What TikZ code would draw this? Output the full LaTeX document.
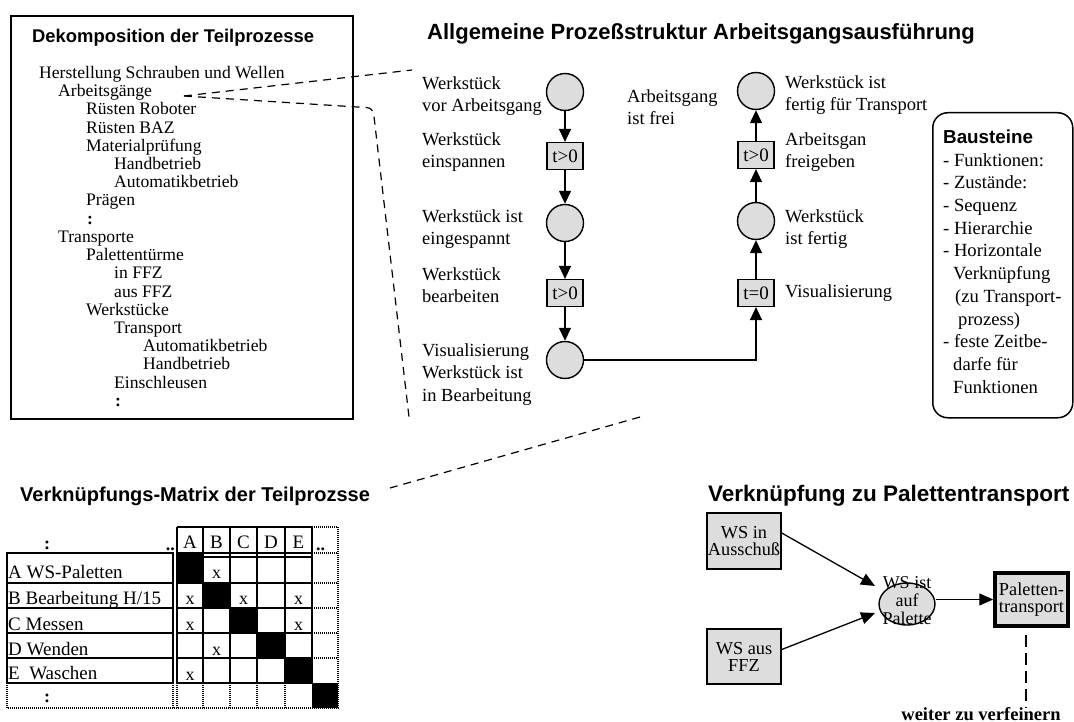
\documentclass[tikz,border=0pt]{standalone}
\usepackage{fontspec}
\setmainfont{Liberation Serif}
\setsansfont{Liberation Sans}
\usetikzlibrary{arrows.meta,shapes.geometric,calc}
\definecolor{placefill}{RGB}{221,221,221}

\tikzset{
  head/.style={font=\sffamily\bfseries\fontsize{22}{26}\selectfont, anchor=west},
  lbl/.style={font=\fontsize{18.5}{22.5}\selectfont, align=left, anchor=north west},
  place/.style={circle, draw, line width=1.4pt, fill=placefill, minimum size=37pt},
  trans/.style={rectangle, draw, line width=1.2pt, fill=placefill, minimum width=36pt,
                minimum height=27pt, font=\fontsize{19}{20}\selectfont},
  flow/.style={line width=1.4pt, -{Triangle[length=13pt,width=12pt]}},
  palflow/.style={line width=1.3pt, -{Triangle[length=14pt,width=12pt]}},
  zoomline/.style={line width=1.2pt, dash pattern=on 8pt off 6pt},
  gridline/.style={line width=1.8pt},
  dotline/.style={line width=1.8pt, dash pattern=on 1pt off 1pt},
  xmark/.style={font=\fontsize{18}{20}\selectfont, anchor=base},
  rowlbl/.style={font=\fontsize{19}{20}\selectfont, anchor=base west},
  pbox/.style={rectangle, draw, line width=1.5pt, fill=placefill, align=center,
               font=\fontsize{18.3}{17}\selectfont},
}

\begin{document}
\begin{tikzpicture}[x=1pt, y=-1pt, every node/.style={inner sep=0pt}]
\useasboundingbox (0,0) rectangle (1074,722);

% ---------- decomposition of the sub-processes ----------
\node[draw, line width=1.6pt, minimum width=342pt, minimum height=403pt, anchor=north west]
  (deko) at (10,15) {};
\node[head, font=\sffamily\bfseries\fontsize{18.4}{22}\selectfont] (tdeko) at (32,38)
  {Dekomposition der Teilprozesse};
\node[lbl, font=\fontsize{17.6}{18.22}\selectfont] (tree) at (39,66) {%
Herstellung Schrauben und Wellen\\
\hspace*{19pt}Arbeitsgänge\\
\hspace*{47pt}Rüsten Roboter\\
\hspace*{47pt}Rüsten BAZ\\
\hspace*{47pt}Materialprüfung\\
\hspace*{75pt}Handbetrieb\\
\hspace*{75pt}Automatikbetrieb\\
\hspace*{47pt}Prägen\\
\hspace*{48pt}\textbf{:}\\
\hspace*{19pt}Transporte\\
\hspace*{47pt}Palettentürme\\
\hspace*{75pt}in FFZ\\
\hspace*{75pt}aus FFZ\\
\hspace*{47pt}Werkstücke\\
\hspace*{75pt}Transport\\
\hspace*{104pt}Automatikbetrieb\\
\hspace*{104pt}Handbetrieb\\
\hspace*{75pt}Einschleusen\\
\hspace*{76pt}\textbf{:}};

% ---------- general process structure ----------
\node[head] (tproc) at (427,34) {Allgemeine Prozeßstruktur Arbeitsgangsausführung};

\node[place] (p1) at (565,92) {};
\node[trans] (t1) at (565,156) {t>0};
\node[place] (p2) at (565,223) {};
\node[trans] (t2) at (565,293) {t>0};
\node[place] (p3) at (565,360) {};
\node[place] (p4) at (756,91) {};
\node[trans] (t3) at (756,155) {t>0};
\node[place] (p5) at (756,221) {};
\node[trans] (t4) at (756,293) {t=0};

\draw[flow] (p1) -- (t1);
\draw[flow] (t1) -- (p2);
\draw[flow] (p2) -- (t2);
\draw[flow] (t2) -- (p3);
\draw[flow] (p3) -| (t4);
\draw[flow] (t4) -- (p5);
\draw[flow] (p5) -- (t3);
\draw[flow] (t3) -- (p4);

\node[lbl] (l1) at (422,76) {Werkstück\\vor Arbeitsgang};
\node[lbl] (l2) at (422,132) {Werkstück\\einspannen};
\node[lbl] (l3) at (422,209) {Werkstück ist\\eingespannt};
\node[lbl] (l4) at (422,267) {Werkstück\\bearbeiten};
\node[lbl] (l5) at (422,343) {Visualisierung\\Werkstück ist\\in Bearbeitung};
\node[lbl] (l6) at (627,89) {Arbeitsgang\\ist frei};
\node[lbl] (l7) at (785,75) {Werkstück ist\\fertig für Transport};
\node[lbl] (l8) at (785,132) {Arbeitsgan\\freigeben};
\node[lbl] (l9) at (785,209) {Werkstück\\ist fertig};
\node[lbl] (l10) at (785,284) {Visualisierung};

% building blocks
\node[draw, line width=1.5pt, rounded corners=15pt, minimum width=140pt, minimum height=305pt,
  anchor=north west] (bst) at (932,112) {};
\node[head, font=\sffamily\bfseries\fontsize{18.8}{22}\selectfont] (bsttitle) at (943,137) {Bausteine};
\node[lbl, font=\fontsize{18.6}{22.7}\selectfont] (bsttext) at (943,153) {%
- Funktionen:\\
- Zustände:\\
- Sequenz\\
- Hierarchie\\
- Horizontale\\
\hspace*{10pt}Verknüpfung\\
\hspace*{12pt}(zu Transport-\\
\hspace*{15pt}prozess)\\
- feste Zeitbe-\\
\hspace*{10pt}darfe für\\
\hspace*{10pt}Funktionen};

% zoom guide lines
\coordinate (ag) at (184,96);
\coordinate (za) at (412,70);
\coordinate (zb1) at (373,108);
\coordinate (zb) at (409,417);
\coordinate (zc1) at (640,417);
\coordinate (zc) at (390,488);
\draw[zoomline] (ag) -- (za);
\draw[zoomline, rounded corners=6pt] (ag) -- (zb1) -- (zb);
\draw[zoomline] (zc1) -- (zc);

% ---------- link matrix ----------
\node[head, font=\sffamily\bfseries\fontsize{20}{24}\selectfont] (tmat) at (20,496)
  {Verknüpfungs-Matrix der Teilprozsse};

% diagonal and corner cells
\fill (177,553) rectangle (203,583);
\fill (203,583) rectangle (230,608);
\fill (230,608) rectangle (257,633);
\fill (257,633) rectangle (285,658);
\fill (285,658) rectangle (312,683);
\fill (312,683) rectangle (338,708);

% label column
\draw[gridline] (7,553) rectangle (173,683);
\foreach \yy in {583,608,633,658} \draw[gridline] (7,\yy) -- (173,\yy);
% cell grid
\draw[gridline] (177,527) -- (312,527);
\foreach \xx in {177,203,230,257,285,312} \draw[gridline] (\xx,527) -- (\xx,683);
\draw[gridline] (177,553) -- (312,553);
\draw[gridline] (203,557) -- (312,557);
\foreach \yy in {583,608,633,658,683} \draw[gridline] (177,\yy) -- (312,\yy);
% open-ended parts
\draw[dotline] (312,527) -- (338,527) -- (338,708) -- (7,708) -- (7,683);
\foreach \yy in {553,583,608,633,658} \draw[dotline] (312,\yy) -- (338,\yy);
\foreach \xx in {173,177,203,230,257,285} \draw[dotline] (\xx,683) -- (\xx,708);

\node[font=\fontsize{18}{20}\selectfont\bfseries, anchor=base] (mcolon) at (47,549) {:};
\node[font=\fontsize{18}{20}\selectfont\bfseries, anchor=base east] (mdots) at (175,550) {..};
\node[font=\fontsize{18}{20}\selectfont\bfseries, anchor=base west] (mdots2) at (316,550) {..};
\foreach \xx/\cc in {190/A,216.5/B,243.5/C,271/D,298.5/E}
  \node[font=\fontsize{19}{20}\selectfont, anchor=base] at (\xx,548) {\cc};

\node[rowlbl] (ra) at (8,578) {A WS-Paletten};
\node[rowlbl] (rb) at (8,604) {B Bearbeitung H/15};
\node[rowlbl] (rc) at (8,630) {C Messen};
\node[rowlbl] (rd) at (8,655) {D Wenden};
\node[rowlbl] (re) at (8,679) {E\ \ Waschen};
\node[font=\fontsize{18}{20}\selectfont\bfseries, anchor=base] (bcolon) at (47,702) {:};

\foreach \xx/\yy in {216.5/578, 190/604, 243.5/604, 298.5/604, 190/630, 298.5/630, 216.5/655, 190/680}
  \node[xmark] at (\xx,\yy) {x};

% ---------- link to pallet transport ----------
\node[head, font=\sffamily\bfseries\fontsize{22.5}{26}\selectfont] (tpal) at (708,496)
  {Verknüpfung zu Palettentransport};

\node[pbox, minimum width=74pt, minimum height=56pt] (b1) at (744,541) {WS in\\Ausschuß};
\node[pbox, minimum width=74pt, minimum height=55pt] (b2) at (744,656.5) {WS aus\\FFZ};
\node[ellipse, draw, line width=1.4pt, fill=placefill, minimum width=56pt, minimum height=42pt]
  (wsp) at (907,604) {};
\node[align=center, font=\fontsize{18}{18}\selectfont] (wsptext) at (907,601) {WS ist\\auf\\Palette};
\node[pbox, line width=3.5pt, minimum width=73pt, minimum height=53pt] (pt) at (1031.5,599.5)
  {Paletten-\\transport};

\coordinate (tipa) at (875,586);
\coordinate (tipb) at (875,613);
\draw[palflow] ($(b1.east)+(0,-8)$) -- (tipa);
\draw[palflow] ($(b2.east)+(0,-7)$) -- (tipb);
\draw[palflow] (pt.west -| wsp.east) -- (pt.west);

\node[font=\fontsize{18.5}{20}\selectfont\bfseries, anchor=base] (refine) at (981,720)
  {weiter zu verfeinern};
\draw[line width=2pt, dash pattern=on 12pt off 6pt]
  ([xshift=-5.5pt, yshift=-7pt]pt.south) -- ([xshift=-5.5pt, yshift=-1pt]pt.south |- refine.north);

\end{tikzpicture}
\end{document}
